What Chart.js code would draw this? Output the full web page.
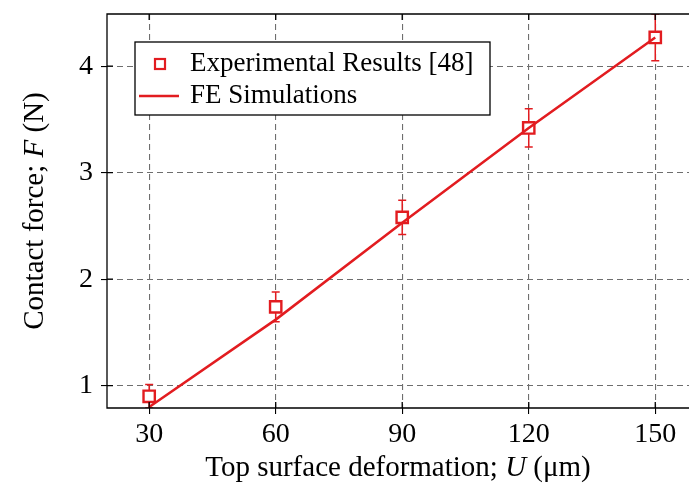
<!DOCTYPE html>
<html>
<head>
<meta charset="utf-8">
<script src="https://cdn.jsdelivr.net/npm/chart.js@4.4.0/dist/chart.umd.min.js"></script>
<style>
  html, body { margin: 0; padding: 0; background: #fff; }
  #wrap { width: 689px; height: 486px; }
</style>
</head>
<body>
<div id="wrap"><canvas id="myChart" width="689" height="486"></canvas></div>
<script>
// deformation U (um)
const deformation = [30, 60, 90, 120, 150];
// experimental contact force (N) and error
const expForce = [0.9, 1.74, 2.58, 3.42, 4.27];
const expErr = [0.11, 0.14, 0.16, 0.18, 0.22];
// FE simulation
const feForce = [0.8, 1.62, 2.53, 3.42, 4.27];

const xTicks = [30, 60, 90, 120, 150];
const yTicks = [1, 2, 3, 4];

const red = "rgb(226,28,32)";
const serif = "'Liberation Serif', 'DejaVu Serif', serif";

const errorBars = {
  id: "errorBars",
  beforeDatasetsDraw(chart) {
    const c = chart.ctx, xs = chart.scales.x, ys = chart.scales.y, a = chart.chartArea;
    c.save();
    c.beginPath();
    c.rect(a.left, a.top, a.right - a.left, a.bottom - a.top);
    c.clip();
    c.strokeStyle = red;
    c.lineWidth = 1.5;
    for (let i = 0; i < deformation.length; i++) {
      const px = xs.getPixelForValue(deformation[i]);
      const t = ys.getPixelForValue(expForce[i] + expErr[i]);
      const b = ys.getPixelForValue(expForce[i] - expErr[i]);
      c.beginPath();
      c.moveTo(px, t); c.lineTo(px, b);
      c.moveTo(px - 4, t); c.lineTo(px + 4, t);
      c.moveTo(px - 4, b); c.lineTo(px + 4, b);
      c.stroke();
    }
    c.restore();
  },
  afterDraw(chart) {
    const c = chart.ctx, a = chart.chartArea, xs = chart.scales.x, ys = chart.scales.y;
    c.save();
    // frame + inner tick marks
    c.strokeStyle = "#000";
    c.lineWidth = 1.3;
    c.setLineDash([]);
    c.beginPath();
    c.moveTo(a.right + 2, a.top); c.lineTo(a.left, a.top);
    c.lineTo(a.left, a.bottom); c.lineTo(a.right + 2, a.bottom);
    xTicks.forEach(v => {
      const px = xs.getPixelForValue(v);
      c.moveTo(px, a.bottom); c.lineTo(px, a.bottom - 6);
      c.moveTo(px, a.top); c.lineTo(px, a.top + 6);
    });
    yTicks.forEach(v => {
      const py = ys.getPixelForValue(v);
      c.moveTo(a.left, py); c.lineTo(a.left + 6, py);
    });
    c.stroke();

    // legend
    const lx = 135, ly = 42, lw = 355, lh = 73;
    c.fillStyle = "#fff";
    c.fillRect(lx, ly, lw, lh);
    c.lineWidth = 1.3;
    c.strokeRect(lx, ly, lw, lh);
    c.strokeStyle = red;
    c.lineWidth = 2.2;
    c.strokeRect(155, 59, 10, 10);
    c.lineWidth = 2.5;
    c.beginPath();
    c.moveTo(139, 96); c.lineTo(179, 96);
    c.stroke();
    c.fillStyle = "#000";
    c.font = "27px " + serif;
    c.textBaseline = "middle";
    c.fillText(chart.data.datasets[0].label, 190, 64);
    c.fillText(chart.data.datasets[1].label, 190, 96);

    // axis titles with italic symbols
    function mixed(parts, cx, cy) {
      let w = 0;
      parts.forEach(p => { c.font = p[1] + "29px " + serif; w += c.measureText(p[0]).width; });
      let x = cx - w / 2;
      parts.forEach(p => {
        c.font = p[1] + "29px " + serif;
        c.fillText(p[0], x, cy);
        x += c.measureText(p[0]).width;
      });
    }
    c.textBaseline = "middle";
    mixed([["Top surface deformation; ", ""], ["U", "italic "], [" (\u03bcm)", ""]], (a.left + a.right) / 2, 468);
    c.save();
    c.translate(35, (a.top + a.bottom) / 2);
    c.rotate(-Math.PI / 2);
    mixed([["Contact force; ", ""], ["F", "italic "], [" (N)", ""]], 0, 0);
    c.restore();
    c.restore();
  }
};

const ctx = document.getElementById("myChart");

const myChart = new Chart(ctx, {
  type: "line",
  data: {
    datasets: [
      {
        label: "Experimental Results [48]",
        data: deformation.map((u, i) => ({ x: u, y: expForce[i] })),
        showLine: false,
        pointStyle: "rect",
        pointRadius: 8,
        pointBorderWidth: 2.4,
        pointBorderColor: red,
        pointBackgroundColor: "#fff",
        order: 2,
      },
      {
        label: "FE Simulations",
        data: deformation.map((u, i) => ({ x: u, y: feForce[i] })),
        borderColor: red,
        borderWidth: 2.5,
        pointRadius: 0,
        tension: 0,
        order: 1,
      },
    ],
  },
  options: {
    responsive: false,
    animation: false,
    events: [],
    layout: { autoPadding: false, padding: { top: 14, right: 0, left: 0, bottom: 0 } },
    plugins: { legend: false, tooltip: false },
    scales: {
      x: {
        type: "linear",
        min: 20,
        max: 158,
        afterBuildTicks: (s) => { s.ticks = xTicks.map(v => ({ value: v })); },
        afterFit: (s) => { s.height = 78; s.paddingLeft = 0; s.paddingRight = 0; },
        ticks: { color: "#000", font: { family: serif, size: 28 }, padding: 4, maxRotation: 0 },
        grid: { color: "#6e6e6e", tickBorderDash: [], tickColor: "#000", tickLength: 6, lineWidth: 1.1 },
        border: { display: false, dash: [6, 4] },
      },
      y: {
        min: 0.79,
        max: 4.49,
        afterBuildTicks: (s) => { s.ticks = yTicks.map(v => ({ value: v })); },
        afterFit: (s) => { s.width = 107; s.paddingTop = 0; s.paddingBottom = 0; },
        ticks: { color: "#000", font: { family: serif, size: 28 }, padding: 8 },
        grid: { color: "#6e6e6e", tickBorderDash: [], tickColor: "#000", tickLength: 6, lineWidth: 1.1 },
        border: { display: false, dash: [6, 4] },
      },
    },
  },
  plugins: [errorBars],
});
</script>
</body>
</html>
